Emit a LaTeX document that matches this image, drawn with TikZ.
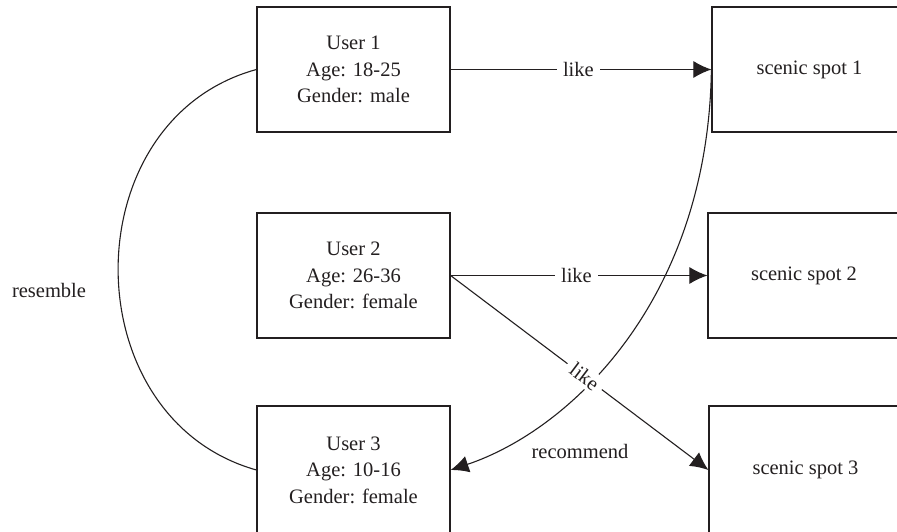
\documentclass[tikz,border=0pt]{standalone}
\usepackage{fontspec}
\setmainfont{Liberation Serif}
\usetikzlibrary{arrows.meta}
\definecolor{linec}{HTML}{231F20}
\begin{document}
\begin{tikzpicture}[x=1pt,y=-1pt,
  box/.style={draw=linec, line width=1.2pt, rectangle, minimum height=125pt, align=center,
    font=\fontsize{20.5}{26.5}\selectfont, text=linec, inner sep=0pt},
  ubox/.style={box, minimum width=193pt},
  lbl/.style={font=\fontsize{20.5}{26}\selectfont, text=linec},
  gap/.style={lbl, fill=white, inner xsep=6pt, inner ysep=3pt},
  con/.style={draw=linec, line width=1.1pt},
  arr/.style={con, -{Latex[length=18pt,width=17pt]}}]
\useasboundingbox (0,0) rectangle (897,532);
\clip (0,0) rectangle (897,532);
\fill[white] (0,0) rectangle (897,532);
% user boxes
\node[ubox] (u1) at (353.5,69.5) {User 1\\Age: 18-25\\Gender: male};
\node[ubox] (u2) at (353.5,275.5) {User 2\\Age: 26-36\\Gender: female};
\node[ubox, minimum height=128pt] (u3) at (353.5,470) {User 3\\Age: 10-16\\Gender: female};
% scenic spot boxes
\node[box, minimum width=195pt] (s1) at (809.5,69.5) {scenic spot 1};
\node[box, minimum width=192pt] (s2) at (804,275.5) {scenic spot 2};
\node[box, minimum width=193pt, minimum height=128pt] (s3) at (805.5,470) {scenic spot 3};
% resemble arc
\draw[con] (u1.west) .. controls (72,120) and (72,418) .. (u3.west);
\node[lbl] (res) at (49,290) {resemble};
% recommend curve
\draw[arr] (s1.west) .. controls (708,300) and (570,430) .. (u3.east);
\node[lbl] (rec) at (580,451) {recommend};
% like arrows
\draw[arr] (u1.east) -- node[gap, pos=0.49] {like} (s1.west);
\draw[arr] (u2.east) -- node[gap, pos=0.49] {like} (s2.west);
\draw[arr] (u2.east) -- node[gap, sloped, pos=0.52] {like} (s3.west);
\end{tikzpicture}
\end{document}
